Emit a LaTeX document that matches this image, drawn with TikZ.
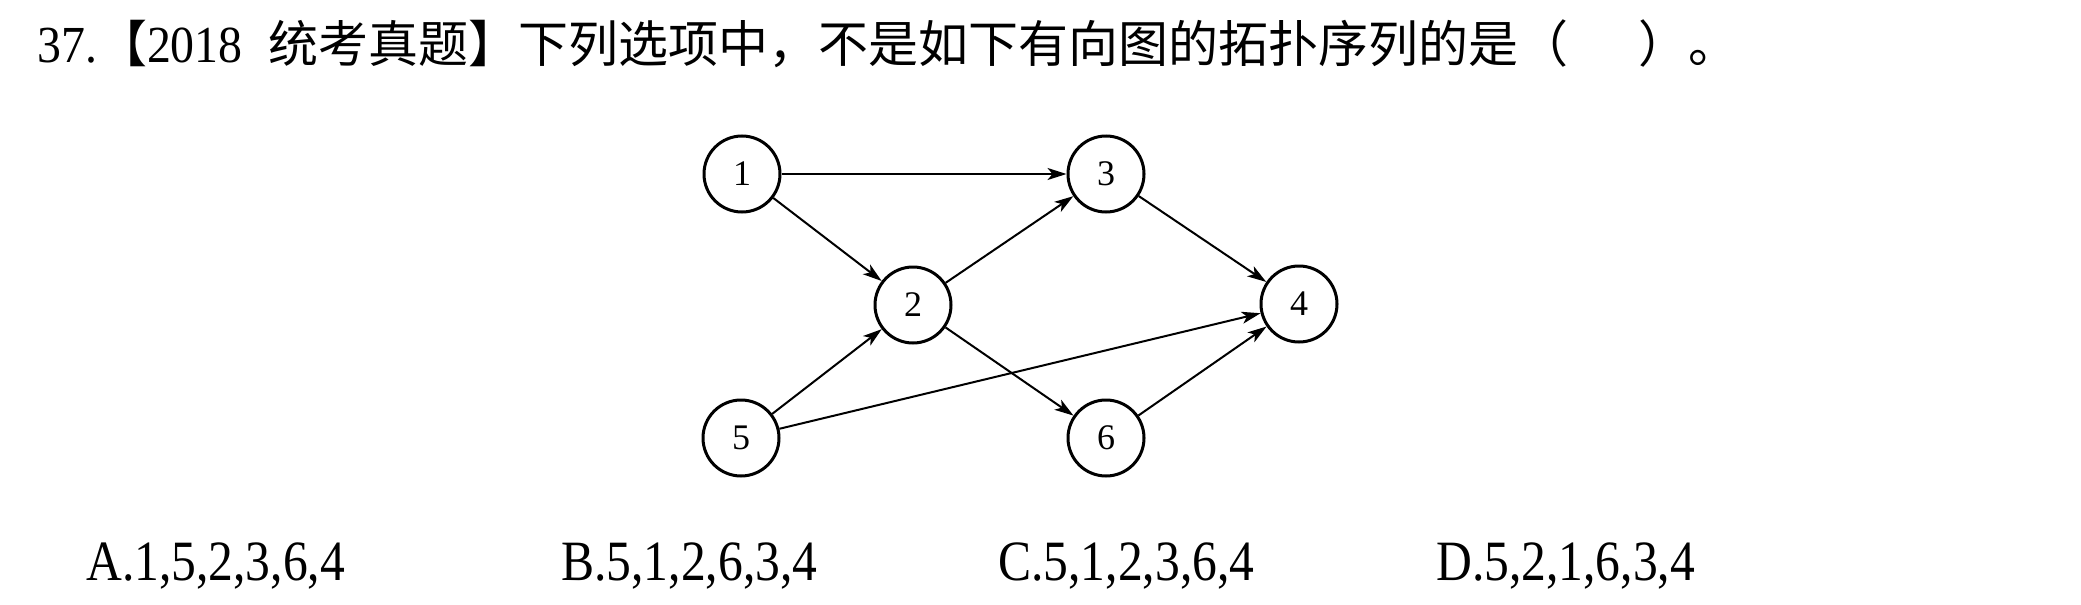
\documentclass[tikz,border=0pt]{standalone}
\usepackage{fontspec}
\setmainfont{Liberation Serif}
\newfontfamily\cjk{Noto Sans CJK SC}
\usetikzlibrary{arrows.meta}
\newcommand\latpart[1]{\scalebox{0.92}[1]{\fontspec{Liberation Serif}\fontsize{52}{54}\selectfont #1}}
\begin{document}
\begin{tikzpicture}[x=1pt,y=-1pt,
  vtx/.style={circle,draw,line width=3pt,minimum size=76pt,inner sep=0pt,font=\fontsize{36}{38}\selectfont},
  edge/.style={line width=2pt,-{Stealth[length=19pt,width=12pt,inset=5pt]}},
  opt/.style={anchor=base west,inner sep=0pt,font=\fontsize{57}{60}\selectfont}]
\useasboundingbox[fill=white] (0,0) rectangle (2081,605);
\node[anchor=base west,inner sep=0pt] (title) at (37,62)
  {\cjk\fontsize{50}{52}\selectfont \latpart{37.}【\latpart{2018}\hspace{26pt}统考真题】下列选项中，不是如下有向图的拓扑序列的是（\hspace{70pt}）。};
\node[vtx] (n1) at (742,174) {1};
\node[vtx] (n3) at (1106,174) {3};
\node[vtx] (n2) at (913,305) {2};
\node[vtx] (n4) at (1299,304) {4};
\node[vtx] (n5) at (741,438) {5};
\node[vtx] (n6) at (1106,438) {6};
\draw[edge] (n1) -- (n3);
\draw[edge] (n1) -- (n2);
\draw[edge] (n2) -- (n3);
\draw[edge] (n3) -- (n4);
\draw[edge] (n2) -- (n6);
\draw[edge] (n5) -- (n2);
\draw[edge] (n5) -- (n4);
\draw[edge] (n6) -- (n4);
\node[opt] (optA) at (86,580) {\scalebox{0.87}[1]{A.1,5,2,3,6,4}};
\node[opt] (optB) at (561,580) {\scalebox{0.87}[1]{B.5,1,2,6,3,4}};
\node[opt] (optC) at (998,580) {\scalebox{0.87}[1]{C.5,1,2,3,6,4}};
\node[opt] (optD) at (1436,580) {\scalebox{0.87}[1]{D.5,2,1,6,3,4}};
\end{tikzpicture}
\end{document}
